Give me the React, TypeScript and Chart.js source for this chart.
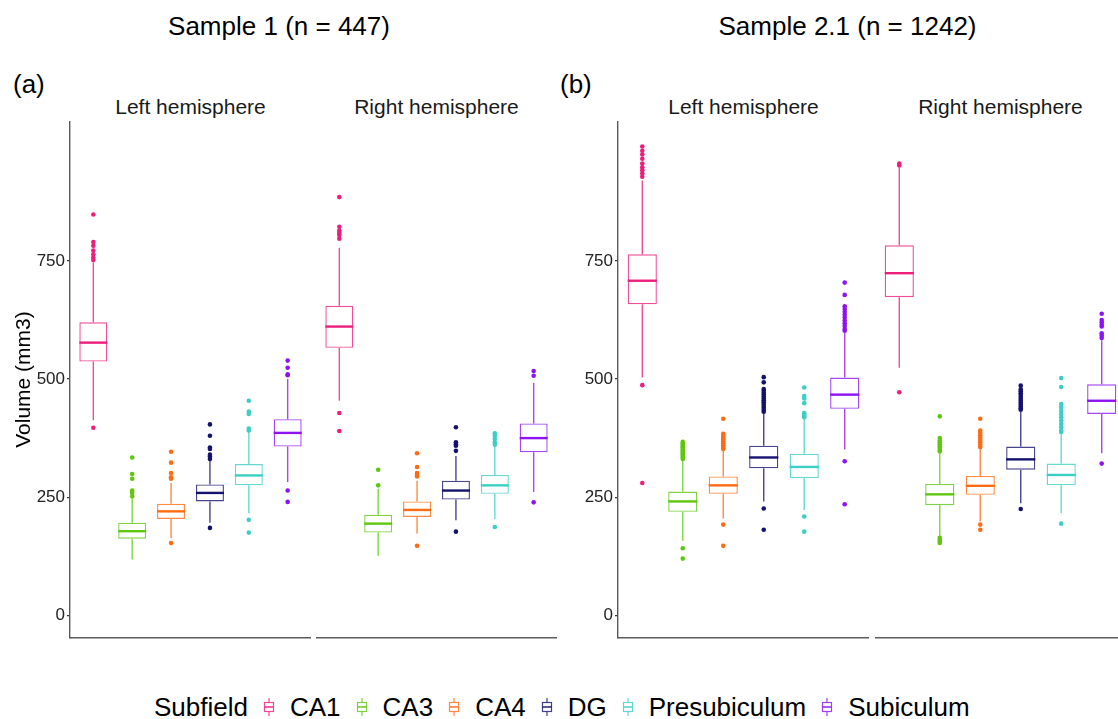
import { useEffect, useRef } from 'react';
import { Chart, registerables } from 'chart.js';

Chart.register(...registerables);
Chart.defaults.font.family = "'Liberation Sans', Arial, sans-serif";

const subfields = ['CA1', 'CA3', 'CA4', 'DG', 'Presubiculum', 'Subiculum'];
const slots = [1, 2, 3, 4, 5, 6];
const yTicks = [0, 250, 500, 750];
const palette = ['#EC1E7C', '#5FC70F', '#FF6B12', '#15126E', '#3CCFC6', '#8E13F2'];

// Sample 1 (n = 447), left hemisphere
const s1LeftLower = [413, 118, 163, 196, 216, 282];
const s1LeftQ1 = [537, 162, 204, 241, 275, 357];
const s1LeftMedian = [577, 178, 220, 259, 296, 386];
const s1LeftQ3 = [620, 196, 236, 277, 320, 415];
const s1LeftUpper = [747, 248, 280, 327, 389, 500];
const s1LeftOutliers = [
  [848, 790, 782, 772, 764, 757, 752, 397],
  [334, 299, 289, 264, 259, 252],
  [346, 323, 301, 292, 289, 153],
  [404, 380, 355, 352, 340, 336, 331, 185],
  [454, 431, 426, 395, 391, 202, 175],
  [539, 524, 510, 508, 264, 240],
];

// Sample 1 (n = 447), right hemisphere
const s1RightLower = [454, 126, 173, 201, 204, 261];
const s1RightQ1 = [566, 175, 208, 245, 257, 345];
const s1RightMedian = [611, 194, 223, 264, 275, 375];
const s1RightQ3 = [655, 213, 241, 285, 297, 406];
const s1RightUpper = [778, 268, 285, 337, 359, 492];
const s1RightOutliers = [
  [885, 822, 814, 809, 805, 797, 428, 390],
  [308, 275],
  [343, 314, 301, 297, 294, 147],
  [398, 366, 362, 359, 348, 177],
  [385, 380, 373, 366, 361, 187],
  [517, 507, 239],
];

// Sample 2.1 (n = 1242), left hemisphere
const s2LeftLower = [503, 158, 205, 241, 223, 351];
const s2LeftQ1 = [658, 219, 257, 311, 290, 437];
const s2LeftMedian = [708, 241, 275, 334, 314, 467];
const s2LeftQ3 = [764, 262, 294, 359, 342, 503];
const s2LeftUpper = [920, 327, 349, 428, 417, 598];
const s2LeftOutliers = [
  [992, 983, 975, 966, 956, 948, 942, 935, 928, 487, 280],
  [367, 364, 361, 358, 355, 352, 349, 346, 343, 340, 337, 334, 331, 142, 120],
  [416, 384, 380, 376, 372, 368, 364, 360, 356, 352, 192, 147],
  [504, 493, 479, 475, 471, 467, 463, 459, 455, 451, 447, 443, 439, 435, 431, 226, 181],
  [482, 464, 459, 449, 428, 425, 422, 419, 209, 177],
  [704, 678, 654, 648, 642, 636, 630, 624, 618, 612, 606, 602, 326, 235],
];

// Sample 2.1 (n = 1242), right hemisphere
const s2RightLower = [524, 167, 199, 237, 216, 343];
const s2RightQ1 = [673, 233, 255, 308, 275, 426];
const s2RightMedian = [724, 256, 274, 330, 297, 454];
const s2RightQ3 = [783, 278, 295, 357, 321, 489];
const s2RightUpper = [947, 344, 352, 430, 386, 582];
const s2RightOutliers = [
  [956, 952, 472],
  [421, 375, 370, 366, 362, 358, 354, 350, 347, 164, 160, 156, 153],
  [416, 391, 386, 381, 376, 371, 366, 361, 356, 192, 181],
  [486, 478, 474, 470, 466, 462, 458, 454, 450, 446, 442, 438, 435, 225],
  [502, 483, 447, 440, 433, 426, 419, 412, 405, 398, 391, 388, 194],
  [638, 625, 620, 615, 611, 597, 592, 587, 321],
];

interface BoxStats {
  lower: number[];
  q1: number[];
  median: number[];
  q3: number[];
  upper: number[];
  outliers: number[][];
}

const axisColor = '#5a5a5a';

// whiskers under the boxes, medians on top
function boxPlotPlugin(stats: BoxStats) {
  return {
    id: 'boxPlot',
    beforeDatasetsDraw(chart: any) {
      const { ctx, scales } = chart;
      const { x, y } = scales;
      ctx.save();
      ctx.lineWidth = 1.4;
      slots.forEach((slot, i) => {
        const px = x.getPixelForValue(slot);
        ctx.strokeStyle = palette[i] + 'C8';
        ctx.beginPath();
        ctx.moveTo(px, y.getPixelForValue(stats.upper[i]));
        ctx.lineTo(px, y.getPixelForValue(stats.q3[i]));
        ctx.moveTo(px, y.getPixelForValue(stats.q1[i]));
        ctx.lineTo(px, y.getPixelForValue(stats.lower[i]));
        ctx.stroke();
      });
      ctx.restore();
    },
    afterDatasetsDraw(chart: any) {
      const { ctx, scales } = chart;
      const meta = chart.getDatasetMeta(0);
      ctx.save();
      ctx.lineWidth = 2.4;
      meta.data.forEach((bar: any, i: number) => {
        const py = scales.y.getPixelForValue(stats.median[i]);
        ctx.strokeStyle = palette[i];
        ctx.beginPath();
        ctx.moveTo(bar.x - bar.width / 2, py);
        ctx.lineTo(bar.x + bar.width / 2, py);
        ctx.stroke();
      });
      ctx.restore();
    },
  };
}

function Facet({ stats, left, width, showY, yTitle }: {
  stats: BoxStats; left: number; width: number; showY: boolean; yTitle?: string;
}) {
  const canvasRef = useRef<HTMLCanvasElement>(null);

  useEffect(() => {
    if (!canvasRef.current) return;
    const chart = new Chart(canvasRef.current, {
      type: 'bar',
      data: {
        datasets: [
          {
            type: 'bar',
            data: slots.map((slot, i) => ({ x: slot, y: [stats.q1[i], stats.q3[i]] })) as any,
            backgroundColor: '#ffffff',
            borderColor: palette.map(c => c + 'C8'),
            borderWidth: 1.4,
            borderSkipped: false,
            barPercentage: 0.72,
            categoryPercentage: 1,
          },
          ...slots.map((slot, i) => ({
            type: 'scatter' as const,
            data: stats.outliers[i].map(v => ({ x: slot, y: v })),
            backgroundColor: palette[i],
            borderWidth: 0,
            pointRadius: 2.3,
          })),
        ] as any,
      },
      options: {
        animation: false,
        responsive: true,
        maintainAspectRatio: false,
        events: [],
        layout: { padding: 0, autoPadding: false },
        plugins: { legend: { display: false }, tooltip: { enabled: false } },
        scales: {
          x: {
            type: 'linear',
            min: 0.4,
            max: 6.6,
            offset: false,
            grid: { display: false },
            ticks: { display: false },
            border: { display: true, color: axisColor, width: 1.4 },
            afterBuildTicks: (s: any) => { s.ticks = slots.map(v => ({ value: v })); },
            afterFit: (s: any) => { s.height = 2; s.paddingLeft = 0; s.paddingRight = 0; },
          },
          y: {
            type: 'linear',
            display: showY,
            min: -48,
            max: 1046,
            afterBuildTicks: (s: any) => { s.ticks = yTicks.map(v => ({ value: v })); },
            afterFit: (s: any) => {
              if (showY) s.width = 70;
              s.paddingTop = 0;
              s.paddingBottom = 0;
            },
            ticks: { padding: 2, color: '#222222', font: { size: 17 } },
            grid: { display: true, drawOnChartArea: false, drawTicks: true, tickLength: 3, color: '#333333', lineWidth: 1.2 },
            border: { display: true, color: axisColor, width: 1.4 },
            title: {
              display: !!yTitle,
              text: yTitle || '',
              color: '#000000',
              font: { size: 21 },
              padding: { top: 12, bottom: 0 },
            },
          },
        } as any,
      },
      plugins: [boxPlotPlugin(stats)],
    });
    return () => chart.destroy();
  }, [stats, showY, yTitle]);

  return (
    <div style={{ position: 'absolute', left, top: 121, width, height: 519 }}>
      <canvas ref={canvasRef}></canvas>
    </div>
  );
}

const s1Left: BoxStats = { lower: s1LeftLower, q1: s1LeftQ1, median: s1LeftMedian, q3: s1LeftQ3, upper: s1LeftUpper, outliers: s1LeftOutliers };
const s1Right: BoxStats = { lower: s1RightLower, q1: s1RightQ1, median: s1RightMedian, q3: s1RightQ3, upper: s1RightUpper, outliers: s1RightOutliers };
const s2Left: BoxStats = { lower: s2LeftLower, q1: s2LeftQ1, median: s2LeftMedian, q3: s2LeftQ3, upper: s2LeftUpper, outliers: s2LeftOutliers };
const s2Right: BoxStats = { lower: s2RightLower, q1: s2RightQ1, median: s2RightMedian, q3: s2RightQ3, upper: s2RightUpper, outliers: s2RightOutliers };

function Text({ children, left, top, width, size, align = 'left', color = '#000' }: any) {
  return (
    <div style={{
      position: 'absolute', left, top, width, fontSize: size, lineHeight: `${size}px`,
      textAlign: align, color, whiteSpace: 'nowrap',
    }}>{children}</div>
  );
}

function LegendKey({ color }: { color: string }) {
  return (
    <svg width="12" height="20" style={{ margin: '0 15px', flex: 'none' }}>
      <line x1="6" y1="1" x2="6" y2="19" stroke={color} strokeOpacity="0.8" strokeWidth="1.2" />
      <rect x="1.5" y="5.5" width="9" height="9" fill="#fff" stroke={color} strokeOpacity="0.8" strokeWidth="1.2" />
      <line x1="1.5" y1="10" x2="10.5" y2="10" stroke={color} strokeWidth="1.4" />
    </svg>
  );
}

export default function App() {
  return (
    <div style={{
      position: 'absolute', left: 0, top: 0, width: 1118, height: 719, overflow: 'hidden',
      background: '#ffffff', fontFamily: "'Liberation Sans', Arial, sans-serif",
    }}>
      <Text left={0} top={13} width={558} size={26} align="center">Sample 1 (n = 447)</Text>
      <Text left={558} top={13} width={579} size={26} align="center">Sample 2.1 (n = 1242)</Text>
      <Text left={13} top={71} size={26}>(a)</Text>
      <Text left={560} top={71} size={26}>(b)</Text>

      <Text left={70} top={96} width={241} size={21} align="center" color="#1a1a1a">Left hemisphere</Text>
      <Text left={316} top={96} width={241} size={21} align="center" color="#1a1a1a">Right hemisphere</Text>
      <Text left={618} top={96} width={251} size={21} align="center" color="#1a1a1a">Left hemisphere</Text>
      <Text left={875} top={96} width={251} size={21} align="center" color="#1a1a1a">Right hemisphere</Text>

      <Facet stats={s1Left} left={0} width={311} showY yTitle="Volume (mm3)" />
      <Facet stats={s1Right} left={316} width={241} showY={false} />
      <Facet stats={s2Left} left={548} width={321} showY />
      <Facet stats={s2Right} left={875} width={251} showY={false} />

      <div style={{
        position: 'absolute', left: 154, top: 694, display: 'flex', alignItems: 'center',
        fontSize: 26, lineHeight: '26px', whiteSpace: 'nowrap', color: '#000',
      }}>
        <span>Subfield</span>
        {subfields.map((name, i) => (
          <span key={name} style={{ display: 'flex', alignItems: 'center' }}>
            <LegendKey color={palette[i]} />
            <span>{name}</span>
          </span>
        ))}
      </div>
    </div>
  );
}
